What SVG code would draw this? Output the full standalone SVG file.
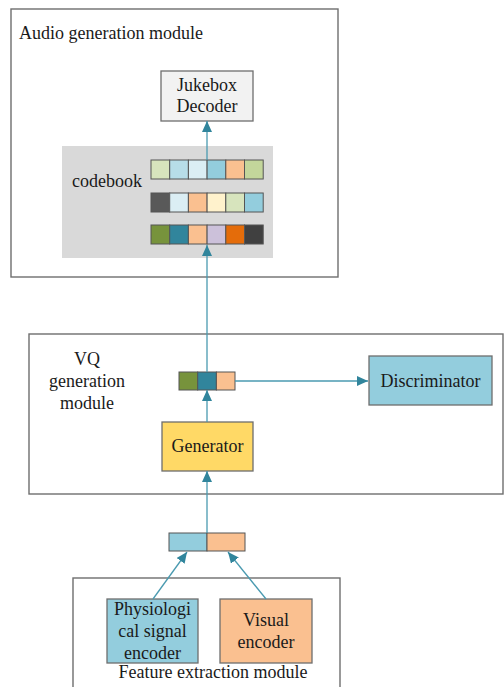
<svg xmlns="http://www.w3.org/2000/svg" width="504" height="687" viewBox="0 0 504 687">
<style>
text{font-size:18px;fill:#1a1a1a}
.c{text-anchor:middle}
.mod{fill:#fff;stroke:#6e6e6e;stroke-width:1.4}
.box{stroke:#6e6e6e;stroke-width:1.3}
.cell{stroke:#555;stroke-width:1}
.conn{stroke:#4a9ab0;stroke-width:1.3;fill:none}
</style>
<defs>
<marker id="ah" markerUnits="userSpaceOnUse" markerWidth="12" markerHeight="10" refX="11" refY="5" orient="auto">
<path d="M0,0 L11,5 L0,10 Z" fill="#31859c"/>
</marker>
</defs>
<rect width="504" height="687" fill="#fff"/>
<g font-family="Liberation Serif, DejaVu Serif, serif">
<g id="audio-module">
<rect class="mod" x="11" y="9" width="327" height="268"/>
<text x="19" y="39">Audio generation module</text>
</g>
<g id="codebook">
<rect x="62" y="146" width="211" height="112" fill="#d9d9d9"/>
<text x="72" y="187">codebook</text>
<g class="cell">
<rect x="151" y="160" width="18.7" height="19" fill="#d7e4bd"/>
<rect x="169.7" y="160" width="18.7" height="19" fill="#b7dde8"/>
<rect x="188.4" y="160" width="18.7" height="19" fill="#dbeef4"/>
<rect x="207.1" y="160" width="18.7" height="19" fill="#93cddd"/>
<rect x="225.8" y="160" width="18.7" height="19" fill="#fac090"/>
<rect x="244.5" y="160" width="18.7" height="19" fill="#c3d69b"/>
<rect x="151" y="193" width="18.7" height="19" fill="#595959"/>
<rect x="169.7" y="193" width="18.7" height="19" fill="#dbeef4"/>
<rect x="188.4" y="193" width="18.7" height="19" fill="#fac090"/>
<rect x="207.1" y="193" width="18.7" height="19" fill="#fff2cc"/>
<rect x="225.8" y="193" width="18.7" height="19" fill="#d7e4bd"/>
<rect x="244.5" y="193" width="18.7" height="19" fill="#93cddd"/>
<rect x="151" y="225" width="18.7" height="19" fill="#77933c"/>
<rect x="169.7" y="225" width="18.7" height="19" fill="#31859c"/>
<rect x="188.4" y="225" width="18.7" height="19" fill="#fac090"/>
<rect x="207.1" y="225" width="18.7" height="19" fill="#ccc1da"/>
<rect x="225.8" y="225" width="18.7" height="19" fill="#e46c0a"/>
<rect x="244.5" y="225" width="18.7" height="19" fill="#404040"/>
</g>
</g>
<g id="jukebox-decoder">
<rect class="box" x="161" y="71" width="92" height="50" fill="#f2f2f2"/>
<text class="c" x="207" y="91">Jukebox</text>
<text class="c" x="207" y="112">Decoder</text>
</g>

<g id="vq-module">
<rect class="mod" x="29" y="334" width="474" height="160"/>
<text class="c" x="87" y="365">VQ</text>
<text class="c" x="87" y="387">generation</text>
<text class="c" x="87" y="409">module</text>
</g>
<g id="vq-vector" class="cell">
<rect x="179" y="372" width="18.7" height="18" fill="#77933c"/>
<rect x="197.7" y="372" width="18.7" height="18" fill="#31859c"/>
<rect x="216.4" y="372" width="18.6" height="18" fill="#fac090"/>
</g>
<g id="discriminator">
<rect class="box" x="369" y="356" width="123" height="49" fill="#93cddd"/>
<text class="c" x="430.5" y="387">Discriminator</text>
</g>
<g id="generator">
<rect class="box" x="162" y="422" width="91" height="49" fill="#ffd966"/>
<text class="c" x="207.5" y="452">Generator</text>
</g>

<g id="feature-vector" class="cell">
<rect x="169" y="533" width="38" height="18" fill="#93cddd"/>
<rect x="207" y="533" width="38" height="18" fill="#fac090"/>
</g>
<g id="feature-module">
<rect class="mod" x="73" y="578" width="267" height="115"/>
</g>
<g id="physiological-encoder">
<rect class="box" x="107" y="599" width="91" height="64" fill="#93cddd"/>
<text class="c" x="152.5" y="615">Physiologi</text>
<text class="c" x="152.5" y="637">cal signal</text>
<text class="c" x="152.5" y="659">encoder</text>
</g>
<g id="visual-encoder">
<rect class="box" x="220" y="599" width="92" height="64" fill="#fac090"/>
<text class="c" x="266" y="626">Visual</text>
<text class="c" x="266" y="648">encoder</text>
</g>
<text class="c" x="213" y="678">Feature extraction module</text>
</g>
<g id="connectors" class="conn">
<line x1="207" y1="160" x2="207" y2="121" marker-end="url(#ah)"/>
<line x1="207" y1="372" x2="207" y2="245" marker-end="url(#ah)"/>
<line x1="235" y1="381" x2="368" y2="381" marker-end="url(#ah)"/>
<line x1="207" y1="422" x2="207" y2="390" marker-end="url(#ah)"/>
<line x1="207" y1="533" x2="207" y2="471" marker-end="url(#ah)"/>
<line x1="153" y1="599" x2="187" y2="552" marker-end="url(#ah)"/>
<line x1="266" y1="599" x2="228" y2="552" marker-end="url(#ah)"/>
</g>
</svg>
